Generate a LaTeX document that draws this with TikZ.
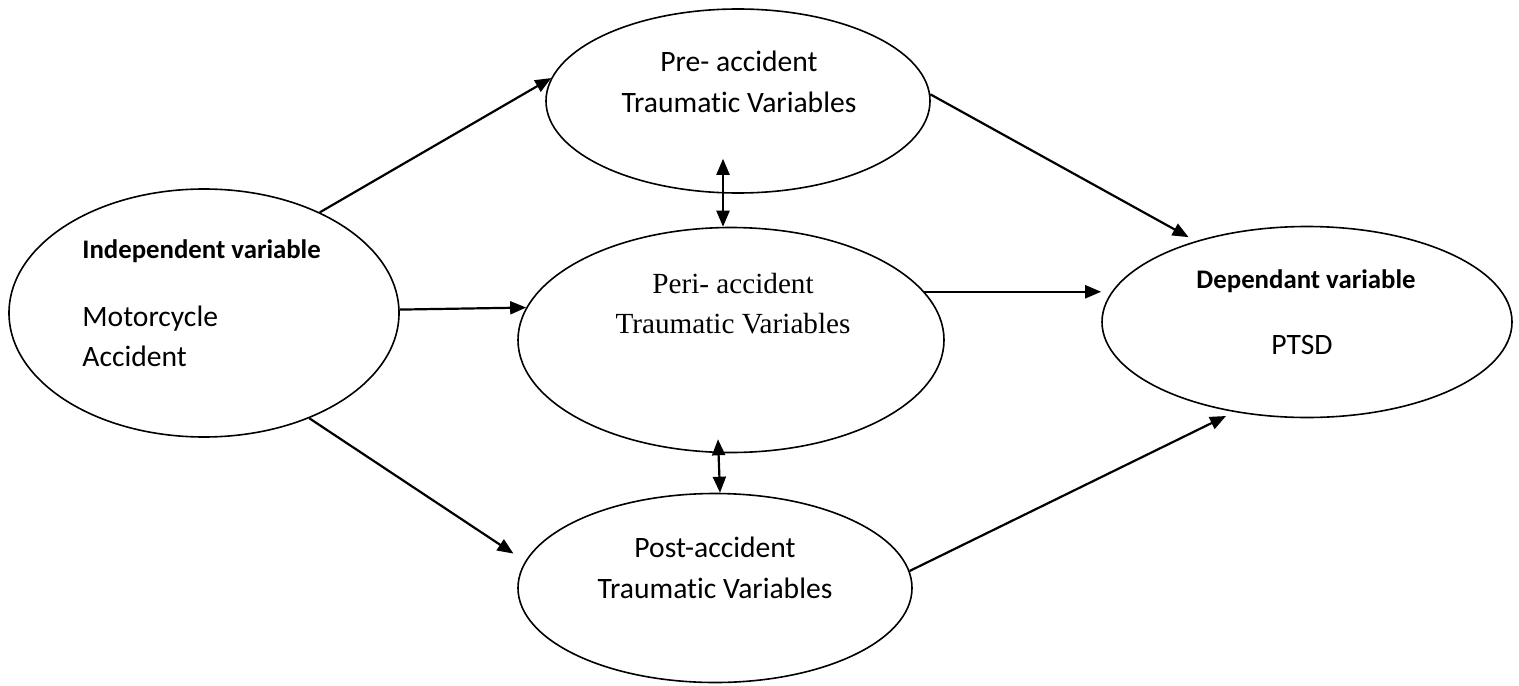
\documentclass[tikz,border=0pt]{standalone}
\usepackage{fontspec}
\setmainfont[Ligatures=NoCommon]{Carlito}
\newfontfamily\timesfont{Liberation Serif}
\usetikzlibrary{arrows.meta,shapes.geometric}
\begin{document}
\begin{tikzpicture}[x=0.5pt,y=-0.5pt,
  oval/.style={ellipse, draw, line width=0.8pt, inner sep=0pt},
  lbl/.style={anchor=base, inner sep=0pt, font=\fontsize{14.8}{20.5}\selectfont},
  blbl/.style={anchor=base, inner sep=0pt, font=\fontsize{13.4}{16}\selectfont\bfseries},
  arr/.style={line width=1.1pt, -{Triangle[length=8pt,width=6.5pt]}},
  darr/.style={line width=1.1pt, {Triangle[length=8pt,width=6.5pt]}-{Triangle[length=8pt,width=6.5pt]}}]
\useasboundingbox (0,0) rectangle (1519,685);
% ellipses
\node[oval, minimum width=195pt, minimum height=124pt] (indep) at (204,313){};
\node[oval, minimum width=192pt, minimum height=92pt] (pre) at (738,101){};
\node[oval, minimum width=213pt, minimum height=112.5pt] (peri) at (731,340){};
\node[oval, minimum width=197pt, minimum height=94.5pt] (post) at (715,588){};
\node[oval, minimum width=205pt, minimum height=95.5pt] (dep) at (1307,322){};
% texts
\node[blbl, anchor=base west] (tindep) at (82,258){Independent variable};
\node[lbl, anchor=base west] (tmoto) at (82,326){Motorcycle};
\node[lbl, anchor=base west] (tacc) at (82,366){Accident};
\node[lbl] (tpre1) at (739,71){Pre- accident};
\node[lbl] (tpre2) at (739,112){Traumatic Variables};
\node[lbl, font=\fontsize{14.6}{20.5}\timesfont] (tperi1) at (733,293){Peri- accident};
\node[lbl, font=\fontsize{14.6}{20.5}\timesfont] (tperi2) at (733,333){Traumatic Variables};
\node[lbl] (tpost1) at (715,557){Post-accident};
\node[lbl] (tpost2) at (715,598){Traumatic Variables};
\node[blbl] (tdep) at (1306,288){Dependant variable};
\node[lbl] (tptsd) at (1302,354){PTSD};
% arrows
\draw[arr](indep.41.5) -- (pre.173);
\draw[arr](indep.1) -- (peri.171.7);
\draw[arr, shorten >=7pt](indep.-45.8) -- (post.172);
\draw[darr]([shift={(-15,-35)}]pre.south) -- ([xshift=-4pt]peri.north);
\draw[darr]([shift={(-13,-14)}]peri.south) -- ([xshift=2.5pt]post.north);
\draw[arr, shorten >=4pt](pre.2) -- (dep.144);
\draw[arr](peri.14) -- (peri.14 -| dep.west);
\draw[arr, shorten >=4.5pt](post.5) -- (dep.231);
\end{tikzpicture}
\end{document}
